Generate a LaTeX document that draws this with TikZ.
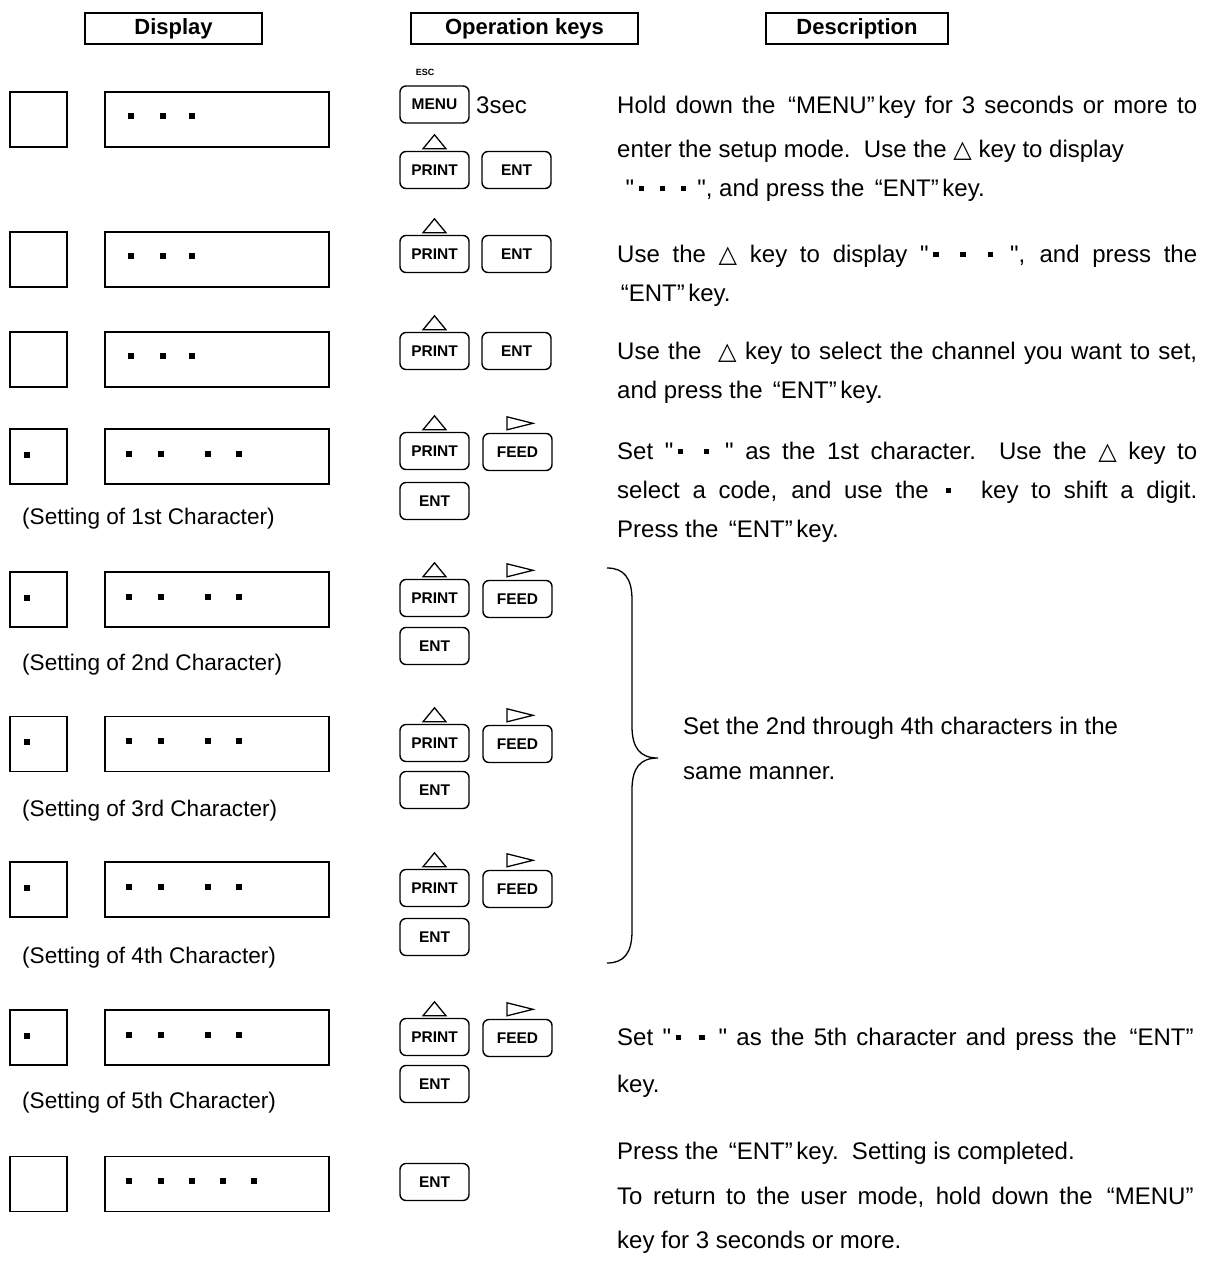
\documentclass[tikz,border=0pt]{standalone}
\usepackage{fontspec}
\setmainfont{Liberation Sans}[Ligatures=TeXOff]
\newfontfamily\djv{DejaVu Sans}
\newcommand\tri{{\djv\char"25B3}}
\newcommand\sqd{\hbox to 0.6em{\hss\rule[0.2em]{0.22em}{0.22em}\hss}}
\newcommand\oq{\hspace{0.15em}“}
\newcommand\cq{”\hspace{0.15em}}
\newcommand\jl[1]{\makebox[580pt][s]{#1}}
\newcommand\dsq[2]{\fill (#1,#2) ++(-3,-3) rectangle ++(6,6);}
\tikzset{
  hdr/.style={draw, line width=1.6pt, minimum height=31pt, inner sep=0pt,
    font=\bfseries\fontsize{22}{24}\selectfont},
  smallbox/.style={draw, line width=1.6pt, minimum width=57pt, minimum height=55pt, inner sep=0pt},
  bigbox/.style={draw, line width=1.6pt, minimum width=224pt, minimum height=55pt, inner sep=0pt},
  keybox/.style={draw, rounded corners=6pt, line width=1.4pt, minimum width=69pt,
    minimum height=37pt, inner sep=0pt, font=\bfseries\fontsize{15.5}{17}\selectfont},
  desc/.style={anchor=base west, inner sep=0pt, font=\fontsize{24}{28}\selectfont},
  capt/.style={anchor=base west, inner sep=0pt, font=\fontsize{22.6}{28}\selectfont},
  trishape/.style={line width=1.3pt, line join=miter},
}
\newcommand\uptri[1]{\draw[trishape] ([shift={(-11.5,-2)}]#1.north) -- ([shift={(11.5,-2)}]#1.north) -- ([shift={(0,-16)}]#1.north) -- cycle;}
\newcommand\rttri[1]{\draw[trishape] ([shift={(-10.5,-3)}]#1.north) -- ([shift={(-10.5,-16)}]#1.north) -- ([shift={(15.5,-9.5)}]#1.north) -- cycle;}
\begin{document}
\begin{tikzpicture}[x=1pt,y=-1pt]
\useasboundingbox (0,0) rectangle (1208,1269);
% headers
\node[hdr, minimum width=177pt] (h1) at (173.5,28.5) {Display};
\node[hdr, minimum width=227pt] (h2) at (524.5,28.5) {Operation keys};
\node[hdr, minimum width=182pt] (h3) at (857,28.5) {Description};

% ---------- Row 1
\node[smallbox] (r1s) at (38.5,119.5) {};
\node[bigbox] (r1b) at (217,119.5) {};
\dsq{131}{116}\dsq{163}{116}\dsq{192}{116}
\node[font=\bfseries\fontsize{9}{10}\selectfont, inner sep=0pt] (esc) at (425,72) {ESC};
\node[keybox] (r1m) at (434.5,104.5) {MENU};
\node[anchor=west, inner sep=0pt, font=\fontsize{24}{28}\selectfont] (sec) at (476,105) {3sec};
\node[keybox] (r1p) at (434.5,170) {PRINT};
\node[keybox] (r1e) at (516.5,170) {ENT};
\uptri{r1p}
\node[desc] (d1a) at (617,113) {\jl{Hold down the \oq MENU\cq key for 3 seconds or more to}};
\node[desc] (d1b) at (617,157) {enter the setup mode.\ \ Use the \tri\ key to display};
\node[desc] (d1c) at (617,196) {\hspace{0.35em}"\sqd\ \sqd\ \sqd\ ", and press the \oq ENT\cq key.};

% ---------- Row 2
\node[smallbox] (r2s) at (38.5,259.5) {};
\node[bigbox] (r2b) at (217,259.5) {};
\dsq{131}{256}\dsq{163}{256}\dsq{192}{256}
\node[keybox] (r2p) at (434.5,254) {PRINT};
\node[keybox] (r2e) at (516.5,254) {ENT};
\uptri{r2p}
\node[desc] (d2a) at (617,262) {\jl{Use the \tri\ key to display "\sqd\ \sqd\ \sqd\ ", and press the}};
\node[desc] (d2b) at (617,301) {\oq ENT\cq key.};

% ---------- Row 3
\node[smallbox] (r3s) at (38.5,359.5) {};
\node[bigbox] (r3b) at (217,359.5) {};
\dsq{131}{356}\dsq{163}{356}\dsq{192}{356}
\node[keybox] (r3p) at (434.5,351) {PRINT};
\node[keybox] (r3e) at (516.5,351) {ENT};
\uptri{r3p}
\node[desc] (d3a) at (617,359) {\jl{Use the \ \tri\ key to select the channel you want to set,}};
\node[desc] (d3b) at (617,398) {and press the \oq ENT\cq key.};

% ---------- Rows 4-8 (character setting)
\foreach \n/\yc/\yp/\ye/\yt/\ord in {4/456.5/451/501/524/1st,5/599.5/598/646/670/2nd,6/744/743/790/816/3rd,7/889.5/888/937/963/4th,8/1037.5/1037/1084/1108/5th}{
  \node[smallbox] (r\n s) at (38.5,\yc) {};
  \node[bigbox] (r\n b) at (217,\yc) {};
  \dsq{27}{\yc-2}
  \dsq{129}{\yc-3}\dsq{161}{\yc-3}\dsq{208}{\yc-3}\dsq{239}{\yc-3}
  \node[capt] (c\n) at (22,\yt) {(Setting of \ord\ Character)};
  \node[keybox] (r\n p) at (434.5,\yp) {PRINT};
  \node[keybox] (r\n f) at (517.5,\yp+1) {FEED};
  \node[keybox] (r\n e) at (434.5,\ye) {ENT};
  \uptri{r\n p}
  \rttri{r\n f}
}
\node[desc] (d4a) at (617,459) {\jl{Set "\sqd\ \sqd\ " as the 1st character.\ \ Use the \tri\ key to}};
\node[desc] (d4b) at (617,498) {\jl{select a code, and use the \sqd\ \ key to shift a digit.}};
\node[desc] (d4c) at (617,537) {Press the \oq ENT\cq key.};

% brace
\coordinate (bt) at (607,568);
\coordinate (bm) at (658,758);
\coordinate (bb) at (607,963);
\draw[line width=1.3pt] (bt) .. controls (624,568) and (632,578) .. (632,600) -- (632,726)
  .. controls (632,748) and (640,758) .. (bm)
  .. controls (640,758) and (632,768) .. (632,790) -- (632,931)
  .. controls (632,953) and (624,963) .. (bb);
\node[desc] (dba) at (683,734) {Set the 2nd through 4th characters in the};
\node[desc] (dbb) at (683,779) {same manner.};

\node[desc] (d8a) at (617,1045) {\jl{Set "\sqd\ \sqd\ " as the 5th character and press the \oq ENT\cq}};
\node[desc] (d8b) at (617,1092) {key.};

% ---------- Row 9
\node[smallbox] (r9s) at (38.5,1184) {};
\node[bigbox] (r9b) at (217,1184) {};
\dsq{129}{1181}\dsq{161}{1181}\dsq{192}{1181}\dsq{223}{1181}\dsq{254}{1181}
\node[keybox] (r9e) at (434.5,1182) {ENT};
\node[desc] (d9a) at (617,1159) {Press the \oq ENT\cq key.\ \ Setting is completed.};
\node[desc] (d9b) at (617,1204) {\jl{To return to the user mode, hold down the \oq MENU\cq}};
\node[desc] (d9c) at (617,1248) {key for 3 seconds or more.};
\end{tikzpicture}
\end{document}
